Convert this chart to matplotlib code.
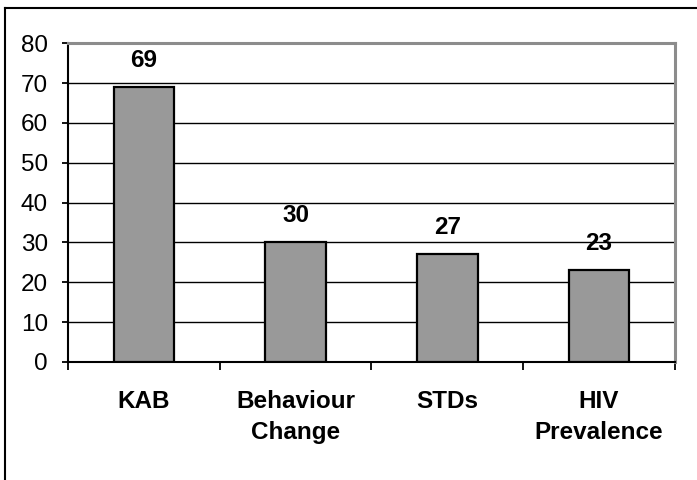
import numpy as np
import matplotlib.pyplot as plt
from matplotlib.lines import Line2D

plt.rcParams['font.family'] = ['Liberation Sans', 'DejaVu Sans']

categories = ['KAB', 'Behaviour\nChange', 'STDs', 'HIV\nPrevalence']
values = [69, 30, 27, 23]
yticks = [0, 10, 20, 30, 40, 50, 60, 70, 80]

fig = plt.figure(figsize=(6.97, 4.8), dpi=100)
ax = fig.add_axes([0.0976, 0.246, 0.8704, 0.664])

x = np.arange(len(categories))
ax.bar(x, values, width=0.40, color='#999999', edgecolor='black', linewidth=1.6, zorder=3)

# value labels above bars
for xi, v in zip(x, values):
    ax.annotate(str(v), (xi, v), xytext=(0, 11), textcoords='offset points',
                ha='center', va='bottom', fontsize=17.5, fontweight='bold', zorder=4)

ax.set_xlim(-0.5, len(categories) - 0.5)
ax.set_ylim(0, 80)
ax.set_yticks(yticks)
ax.yaxis.grid(True, color='black', linewidth=1.0, zorder=0)
ax.set_axisbelow(True)

# category labels centred, tick marks on category boundaries
ax.set_xticks(x)
ax.set_xticklabels(categories, fontsize=17.5, fontweight='bold', linespacing=1.45)
ax.set_xticks(np.arange(-0.5, len(categories)), minor=True)
ax.tick_params(axis='x', which='major', length=0, pad=20)
ax.tick_params(axis='x', which='minor', length=6, width=1.3, direction='out')
ax.tick_params(axis='y', labelsize=17.5, length=4.5, width=1.3, pad=10)

for side in ['left', 'bottom']:
    ax.spines[side].set_color('black')
    ax.spines[side].set_linewidth(1.5)
for side in ['top', 'right']:
    ax.spines[side].set_color('#8c8c8c')
    ax.spines[side].set_linewidth(2.2)

# outer frame (left and top edges)
fig.add_artist(Line2D([0.0072, 0.0072], [0.0, 0.983], transform=fig.transFigure,
                      color='black', linewidth=1.5))
fig.add_artist(Line2D([0.0072, 1.0], [0.983, 0.983], transform=fig.transFigure,
                      color='black', linewidth=1.5))

fig.savefig('out.png', dpi=100)
